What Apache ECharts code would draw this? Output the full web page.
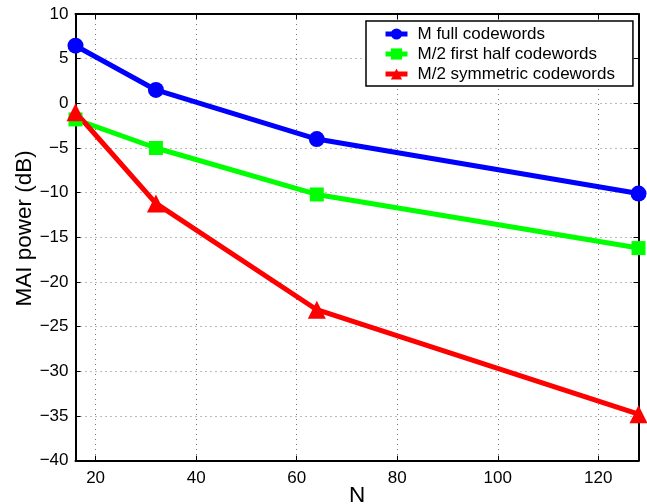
<!DOCTYPE html>
<html><head><meta charset="utf-8">
<script src="https://cdn.jsdelivr.net/npm/echarts@6/dist/echarts.min.js"></script>
<style>html,body{margin:0;padding:0;background:#fff}#c{width:647px;height:504px}</style>
</head><body><div id="c"></div>
<script>
const nValues = [16, 32, 64, 128];
const fullCodewords = [6.45, 1.5, -4.0, -10.1];
const firstHalfCodewords = [-1.8, -5.0, -10.2, -16.2];
const symmetricCodewords = [-1.0, -11.2, -23.1, -34.8];
const xTicks = [20, 40, 60, 80, 100, 120];
const seriesNames = ['M full codewords', 'M/2 first half codewords', 'M/2 symmetric codewords'];

const font = 'Liberation Sans, Arial, Helvetica, sans-serif';
const fmt = v => String(v).replace('-', '\u2212');
const pair = arr => nValues.map((n, i) => [n, arr[i]]);
const grid = {left: 75.5, right: 8.5, top: 14, bottom: 43.3, containLabel: false, outerBoundsMode: 'none'};
const axisLine = {show: true, onZero: false, lineStyle: {color: '#000', width: 2}};
const tickIn = {show: true, inside: true, length: 5, lineStyle: {color: '#000', width: 1}};
const split = {show: true, lineStyle: {color: '#777', type: [1, 4], width: 1}};

const chart = echarts.init(document.getElementById('c'), null, {renderer: 'canvas'});
function mk(name, data, color, symbol, size) {
  return {name, type: 'line', data: pair(data), color, symbol, symbolSize: size,
    lineStyle: {width: 5, color}, itemStyle: {color}, z: 3, animation: false};
}
chart.setOption({
  animation: false,
  textStyle: {fontFamily: font},
  grid,
  xAxis: [{
    type: 'value', min: 16, max: 128, position: 'bottom',
    name: 'N', nameLocation: 'middle', nameGap: 24, nameMoveOverlap: false,
    nameTextStyle: {fontSize: 22.5, color: '#000', fontFamily: font, verticalAlign: 'top'},
    axisLine, axisTick: Object.assign({customValues: xTicks}, tickIn),
    axisLabel: {customValues: xTicks, color: '#000', fontSize: 17, margin: 9, fontFamily: font},
    splitLine: split
  }, {
    type: 'value', min: 16, max: 128, position: 'top',
    axisLine, axisTick: Object.assign({customValues: xTicks}, tickIn),
    axisLabel: {show: false}, splitLine: {show: false}
  }],
  yAxis: [{
    type: 'value', min: -40, max: 10, interval: 5,
    name: 'MAI power (dB)', nameLocation: 'middle', nameGap: 39, nameMoveOverlap: false,
    nameTextStyle: {fontSize: 22.5, color: '#000', fontFamily: font, padding: [0, 0, 0, 18]},
    axisLine, axisTick: tickIn,
    axisLabel: {color: '#000', fontSize: 17, margin: 7, formatter: fmt, fontFamily: font},
    splitLine: split
  }, {
    type: 'value', min: -40, max: 10, interval: 5, position: 'right',
    axisLine, axisTick: tickIn, axisLabel: {show: false}, splitLine: {show: false}
  }],
  legend: {
    data: seriesNames, orient: 'vertical', left: 366, top: 21,
    padding: [3, 18, 2, 17], itemGap: 0, itemWidth: 22, itemHeight: 14,
    backgroundColor: '#fff', borderColor: '#000', borderWidth: 1.5,
    lineStyle: {width: 5},
    textStyle: {fontSize: 17, lineHeight: 20, color: '#000', fontFamily: font, padding: [0, 0, 0, 5]},
    z: 10
  },
  series: [
    mk(seriesNames[0], fullCodewords, '#0000ff', 'circle', 16),
    mk(seriesNames[1], firstHalfCodewords, '#00ff00', 'rect', 14),
    mk(seriesNames[2], symmetricCodewords, '#ff0000', 'triangle', 18)
  ]
});
</script></body></html>
